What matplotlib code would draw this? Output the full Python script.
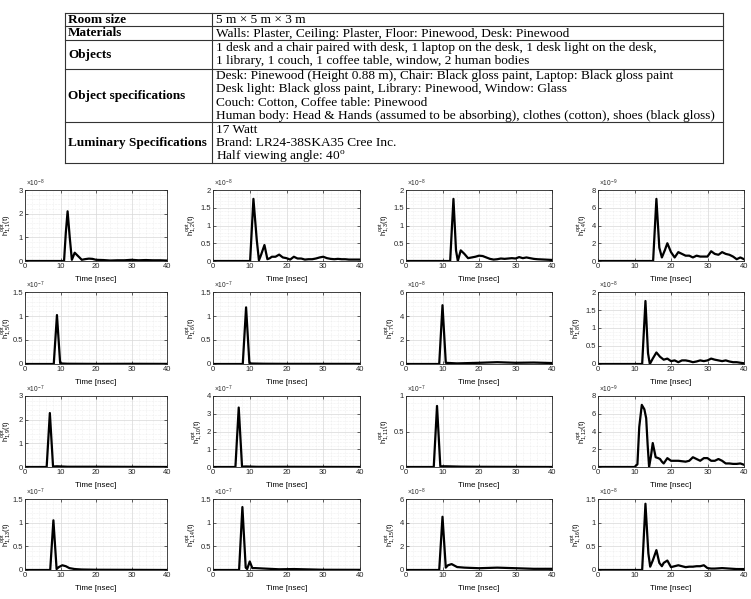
import matplotlib
matplotlib.use("Agg")
import matplotlib.pyplot as plt
from matplotlib.lines import Line2D
from matplotlib.ticker import AutoMinorLocator, FuncFormatter, MultipleLocator

# ---- table content ----
row_names = ["Room size", "Materials", "Objects", "Object specifications",
             "Luminary Specifications"]
row_text = [
    ["5 m \u00d7 5 m \u00d7 3 m"],
    ["Walls: Plaster, Ceiling: Plaster, Floor: Pinewood, Desk: Pinewood"],
    ["1 desk and a chair paired with desk, 1 laptop on the desk, 1 desk light on the desk,",
     "1 library, 1 couch, 1 coffee table, window, 2 human bodies"],
    ["Desk: Pinewood (Height 0.88 m), Chair: Black gloss paint, Laptop: Black gloss paint",
     "Desk light: Black gloss paint, Library: Pinewood, Window: Glass",
     "Couch: Cotton, Coffee table: Pinewood",
     "Human body: Head & Hands (assumed to be absorbing), clothes (cotton), shoes (black gloss)"],
    ["17 Watt", "Brand: LR24-38SKA35 Cree Inc.", "Half viewing angle: 40$^{o}$"],
]

# ---- impulse responses h_{1,k}(t), values in units of 10^exp ----
t1 = [0, 11, 11.5, 12, 12.6, 13.2, 14, 15, 16, 17, 18, 19, 20, 22, 24, 26, 28, 30, 32, 34, 36, 38, 40]
v1 = [0, 0, 1.2, 2.1, 1.0, 0.05, 0.35, 0.2, 0.05, 0.08, 0.1, 0.09, 0.05, 0.04, 0.02, 0.03, 0.03, 0.05, 0.03, 0.04, 0.03, 0.03, 0.02]
t2 = [0, 10.1, 11, 11.9, 12.5, 13, 14, 14.8, 15.5, 16, 17, 18, 19, 20, 21, 22, 23, 24, 25, 26, 27, 28,
      29, 30, 31, 32, 33, 34, 35, 36, 37, 38, 40]
v2 = [0, 0, 1.75, 0.6, 0.02, 0.15, 0.45, 0.05, 0.08, 0.12, 0.12, 0.18, 0.1, 0.08, 0.04, 0.12, 0.07, 0.07,
      0.04, 0.05, 0.05, 0.07, 0.1, 0.12, 0.08, 0.06, 0.05, 0.06, 0.05, 0.05, 0.04, 0.04, 0.04]
t3 = [0, 12.1, 13, 13.7, 14.2, 15, 16, 17, 18, 19, 20, 21, 22, 23, 24, 25, 26, 27, 28, 29, 30, 31, 32,
      33, 34, 35, 36, 38, 40]
v3 = [0, 0, 1.75, 0.3, 0.0, 0.3, 0.2, 0.08, 0.1, 0.12, 0.15, 0.14, 0.1, 0.06, 0.04, 0.05, 0.07, 0.06,
      0.07, 0.08, 0.07, 0.11, 0.08, 0.1, 0.08, 0.06, 0.05, 0.04, 0.03]
t4 = [0, 15.1, 16, 16.8, 17.5, 18.3, 19, 20, 21, 22, 23, 24, 25, 26, 27, 28, 29, 30, 31, 32, 33, 34, 35,
      36, 37, 38, 39, 40]
v4 = [0, 0, 7.0, 1.5, 0.4, 1.2, 2.0, 1.0, 0.4, 1.0, 0.8, 0.6, 0.6, 0.4, 0.6, 0.5, 0.5, 0.5, 1.1, 0.8, 0.7,
      1.0, 0.8, 0.7, 0.5, 0.2, 0.4, 0.2]
t5 = [0, 8.1, 9, 9.9, 10.5, 12, 20, 30, 40]
v5 = [0, 0, 1.02, 0.02, 0.01, 0.005, 0.002, 0.004, 0.002]
t6 = [0, 8.1, 9, 9.9, 10.5, 14, 20, 30, 40]
v6 = [0, 0, 1.18, 0.02, 0.01, 0.005, 0.003, 0.003, 0.002]
t7 = [0, 9.1, 10, 10.9, 12, 14, 20, 25, 30, 35, 40]
v7 = [0, 0, 4.9, 0.1, 0.08, 0.05, 0.1, 0.15, 0.1, 0.12, 0.08]
t8 = [0, 12.1, 13, 13.7, 14.2, 15, 16, 17, 18, 19, 20, 21, 22, 23, 24, 25, 26, 27, 28, 29, 30, 31, 32,
      33, 34, 35, 36, 37, 38, 40]
v8 = [0, 0, 1.75, 0.3, 0.0, 0.15, 0.32, 0.2, 0.12, 0.15, 0.08, 0.1, 0.05, 0.1, 0.1, 0.08, 0.05, 0.07,
      0.1, 0.08, 0.1, 0.15, 0.12, 0.1, 0.08, 0.1, 0.07, 0.05, 0.05, 0.02]
t9 = [0, 6.1, 7, 7.9, 9, 12, 20, 40]
v9 = [0, 0, 2.28, 0.02, 0.03, 0.01, 0.01, 0.0]
t10 = [0, 6.1, 7, 7.9, 9, 12, 20, 40]
v10 = [0, 0, 3.35, 0.02, 0.03, 0.01, 0.01, 0.0]
t11 = [0, 7.6, 8.5, 9.4, 11, 15, 20, 40]
v11 = [0, 0, 0.86, 0.01, 0.01, 0.005, 0.003, 0.0]
t12 = [0, 10, 10.8, 11.3, 12, 12.7, 13.2, 13.6, 14, 14.5, 15, 15.8, 16.5, 17, 17.5, 18, 19, 20, 21, 22,
       23, 24, 25, 26, 27, 28, 29, 30, 31, 32, 33, 34, 35, 36, 37, 38, 39, 40]
v12 = [0, 0, 0.3, 4.5, 7.0, 6.5, 5.5, 2.5, 0.0, 1.2, 2.7, 1.1, 1.0, 0.9, 0.6, 0.4, 1.0, 0.7, 0.7, 0.7,
       0.65, 0.6, 0.7, 1.1, 0.9, 0.7, 1.0, 1.0, 0.7, 0.7, 0.9, 0.7, 0.4, 0.4, 0.35, 0.35, 0.4, 0.25]
t13 = [0, 7.1, 8, 8.9, 9.5, 10.5, 11.5, 12.5, 14, 16, 20, 30, 40]
v13 = [0, 0, 1.05, 0.02, 0.06, 0.1, 0.08, 0.04, 0.02, 0.01, 0.005, 0.003, 0.0]
t14 = [0, 7.1, 8, 8.9, 9.3, 10, 10.7, 11.5, 14, 18, 22, 30, 40]
v14 = [0, 0, 1.33, 0.05, 0.02, 0.18, 0.04, 0.04, 0.03, 0.015, 0.02, 0.005, 0.003]
t15 = [0, 9.1, 10, 10.9, 11.5, 12.5, 14, 16, 20, 25, 30, 35, 40]
v15 = [0, 0, 4.5, 0.2, 0.4, 0.5, 0.25, 0.2, 0.15, 0.2, 0.15, 0.1, 0.1]
t16 = [0, 12.1, 13, 13.8, 14.3, 15, 16, 16.8, 17.5, 18, 19, 20, 21, 22, 23, 24, 25, 26, 27, 28, 29, 30,
       31, 32, 34, 36, 38, 40]
v16 = [0, 0, 1.4, 0.35, 0.07, 0.2, 0.42, 0.15, 0.08, 0.15, 0.2, 0.06, 0.08, 0.1, 0.08, 0.06, 0.07, 0.07,
       0.08, 0.08, 0.1, 0.04, 0.03, 0.03, 0.04, 0.03, 0.02, 0.02]

times = [t1, t2, t3, t4, t5, t6, t7, t8, t9, t10, t11, t12, t13, t14, t15, t16]
values = [v1, v2, v3, v4, v5, v6, v7, v8, v9, v10, v11, v12, v13, v14, v15, v16]
exps = [-8, -8, -8, -9, -7, -7, -8, -8, -7, -7, -7, -9, -7, -7, -8, -8]
ymax = [3, 2, 2, 8, 1.5, 1.5, 6, 2, 3, 4, 1, 8, 1.5, 1.5, 6, 1.5]
ystep = [1, 0.5, 0.5, 2, 0.5, 0.5, 2, 0.5, 1, 1, 0.5, 2, 0.5, 0.5, 2, 0.5]

W, H = 751, 599
plt.rcParams["font.family"] = "Liberation Sans"
plt.rcParams["mathtext.default"] = "regular"
fig = plt.figure(figsize=(W / 100, H / 100), dpi=100)

# ---- table drawn in pixel coordinates ----
tax = fig.add_axes([0, 0, 1, 1])
tax.set_xlim(0, W); tax.set_ylim(H, 0); tax.axis("off")
x0, xdiv, x1 = 65, 212, 723
ybounds = [12.5, 26, 40, 68.5, 122, 163]
lw = 0.8
for y in ybounds:
    tax.add_line(Line2D([x0, x1], [y, y], color="#333333", lw=lw))
for x in (x0, xdiv, x1):
    tax.add_line(Line2D([x, x], [ybounds[0], ybounds[-1]], color="#333333", lw=lw))
line_h = 13.4
for i, (name, lines) in enumerate(zip(row_names, row_text)):
    top, bot = ybounds[i], ybounds[i + 1]
    tax.text(x0 + 3, (top + bot) / 2 + 0.5, name, fontsize=9.5, fontweight="bold",
             family="Liberation Serif", va="center", ha="left")
    n = len(lines)
    start = (top + bot) / 2 - (n - 1) * line_h / 2 + 0.5
    for j, s in enumerate(lines):
        tax.text(xdiv + 4, start + j * line_h, s, fontsize=9.6, family="Liberation Serif",
                 va="center", ha="left")

# ---- 4x4 grid of impulse responses ----
cols_px = [(25, 167), (213, 360), (406, 552), (598, 744)]
rows_px = [(190, 261), (292, 364), (396, 467), (499, 570)]

for k in range(16):
    r, c = divmod(k, 4)
    (xl, xr), (yt, yb) = cols_px[c], rows_px[r]
    ax = fig.add_axes([xl / W, 1 - yb / H, (xr - xl) / W, (yb - yt) / H])
    scale = 10.0 ** exps[k]
    ax.plot(times[k], [v * scale for v in values[k]], color="black", lw=1.6)
    ax.set_xlim(0, 40)
    ax.set_ylim(0, ymax[k] * scale)
    ax.xaxis.set_major_locator(MultipleLocator(10))
    ax.yaxis.set_major_locator(MultipleLocator(ystep[k] * scale))
    ax.xaxis.set_minor_locator(AutoMinorLocator(5))
    ax.yaxis.set_minor_locator(AutoMinorLocator(5))
    ax.yaxis.set_major_formatter(FuncFormatter(lambda v, p, s=scale: f"{v / s:g}"))
    ax.grid(which="major", color="#d8d8d8", lw=0.5)
    ax.grid(which="minor", color="#e2e2e2", lw=0.4, ls=":")
    ax.set_axisbelow(True)
    ax.tick_params(which="both", direction="in", labelsize=5.5, pad=1.5, width=0.5,
                   top=True, right=True, colors="#262626")
    ax.tick_params(which="major", length=2)
    ax.tick_params(which="minor", length=0)
    for sp in ax.spines.values():
        sp.set_linewidth(0.6)
        sp.set_color("#262626")
    ax.text(0.005, 1.015, r"$\times10^{%d}$" % exps[k], transform=ax.transAxes,
            fontsize=4.8, color="#262626", va="bottom", ha="left")
    ax.set_xlabel("Time [nsec]", fontsize=5.8, labelpad=4)
    ax.set_ylabel(r"$h^{opt}_{1,%d}(t)$" % (k + 1), fontsize=5.4, labelpad=1)
    if c == 0:
        # keep the first column's labels inside the canvas
        ax.yaxis.set_label_coords(-(xl - 14) / (xr - xl), 0.5)

fig.savefig("out.png", dpi=100)
